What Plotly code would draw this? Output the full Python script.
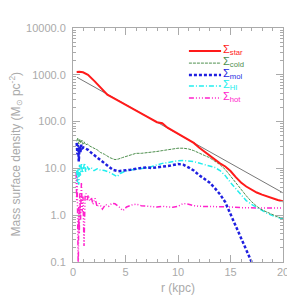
import plotly.graph_objects as go

# ---------------- data ----------------
fit_r = [0.38, 20.0]
fit_sigma = [885.0, 3.0]

star_r = [0.35, 0.6, 0.95, 1.1, 1.43, 2.07, 2.7, 3.27, 4.0, 5.0, 6.0, 7.0, 8.0, 8.5, 9.0, 10.0, 11.0,
          11.5, 12.0, 12.5, 13.0, 13.5, 14.0, 14.5, 15.0, 15.5, 16.0, 16.5, 17.0, 17.5, 18.0, 18.5,
          19.0, 19.5, 20.0]
star_sigma = [1150, 1160, 1130, 1100, 1000, 725, 505, 376, 305, 232, 173, 130, 97, 92, 74, 55, 41,
              35, 28, 23, 18.5, 15, 12.8, 11, 8.8, 6.5, 5.0, 4.1, 3.5, 3.05, 2.75, 2.5,
              2.3, 2.12, 1.98]

cold_r = [0.35, 0.45, 0.55, 0.65, 0.75, 0.85, 0.95, 1.05, 1.2, 1.4, 1.6, 1.8, 2.0, 2.3, 2.6, 3.0,
          3.5, 4.0, 4.3, 4.7, 5.0, 5.5, 6.0, 6.5, 7.0, 7.5, 8.0, 8.5, 9.0, 9.5, 10.0, 10.5, 11.0,
          11.5, 12.0, 12.5, 13.0, 13.5, 14.0, 14.5, 15.0, 15.5, 16.0, 16.5, 17.0, 17.5, 18.0,
          18.5, 19.0, 19.5, 20.0]
cold_sigma = [38, 45, 33, 42, 35, 40, 33, 37, 32, 33, 30, 29, 27, 25, 22, 20,
              17, 15.4, 15.8, 17, 18, 19.5, 21, 21, 21.5, 22.5, 23, 24, 25, 26.5, 27, 27, 26,
              24, 21, 19, 17, 14.5, 12, 9.5, 6.8, 4.9, 3.6, 2.6, 1.95, 1.55, 1.3,
              1.15, 1.02, 0.92, 0.85]

mol_r = [0.35, 0.42, 0.48, 0.55, 0.62, 0.7, 0.8, 0.9, 1.0, 1.2, 1.43, 1.8, 2.38, 3.0, 3.33, 3.8,
         4.3, 5.0, 5.5, 6.2, 7.0, 7.5, 8.0, 8.7, 9.3, 10.0, 10.5, 11.0, 11.5, 12.0, 12.5, 13.0,
         13.5, 14.0, 14.5, 15.0, 15.5, 16.0, 16.5, 17.0, 17.2]
mol_sigma = [35, 20, 32, 14, 30, 22, 32, 27, 28, 27, 25, 21, 16.6, 12.5, 11, 9.3,
             8.7, 9.0, 9.4, 10, 10.5, 10.2, 10.5, 10.7, 11.5, 12.4, 12, 10.5, 9, 7.2, 6, 5,
             3.8, 2.8, 1.9, 1.05, 0.55, 0.3, 0.17, 0.1, 0.08]

hi_r = [0.35, 0.42, 0.48, 0.55, 0.62, 0.7, 0.8, 0.9, 1.0, 1.1, 1.2, 1.35, 1.5, 1.7, 2.0, 2.3, 2.6,
        3.0, 3.5, 4.0, 4.2, 4.5, 5.0, 5.5, 6.2, 7.0, 7.5, 8.0, 8.5, 9.0, 9.5, 10.0, 10.5, 11.0,
        11.5, 12.0, 12.5, 13.0, 13.5, 14.0, 14.5, 15.0, 15.5, 16.0, 16.5, 17.0, 17.5, 18.0,
        18.5, 19.0, 19.5, 20.0]
hi_sigma = [9, 5, 10, 4.5, 12, 7, 13, 8, 10, 13, 8.5, 11, 9.5, 10.5, 9.0, 9.8, 9.2,
            9.0, 8.2, 7.0, 6.7, 7.8, 8.8, 9.2, 9.6, 10.3, 11, 12, 12.8, 13.3, 14, 14.6, 14.7, 14.3,
            14, 13, 12.2, 11.5, 10.5, 9.0, 7.0, 5.0, 3.7, 2.7, 2.05, 1.7, 1.45, 1.25,
            1.1, 0.98, 0.9, 0.83]

hot_r = [0.3, 0.35, 0.4, 0.45, 0.5, 0.55, 0.6, 0.65, 0.72, 0.8, 0.88, 0.95, 1.05, 1.15, 1.25,
         1.35, 1.45, 1.6, 1.75, 1.9, 2.1, 2.3, 2.5, 2.8, 3.1, 3.4, 3.7, 4.0, 4.4, 4.75, 5.1,
         5.6, 6.0, 6.5, 7.0, 7.5, 8.0, 8.5, 9.0, 9.5, 10.0, 10.5, 11.0, 11.5, 12.0, 13.0, 14.0,
         15.0, 16.0, 17.0, 18.0, 19.0, 20.0]
hot_sigma = [8, 2, 6, 0.3, 0.06, 1.5, 0.4, 3, 0.8, 5, 1.2, 2.5, 0.22, 2.5, 2.9,
             2.0, 2.7, 2.0, 2.4, 1.7, 2.3, 1.5, 1.8, 1.35, 1.7, 1.55, 1.8, 1.75, 1.5, 1.25, 1.5,
             1.65, 1.72, 1.6, 1.55, 1.5, 1.5, 1.55, 1.5, 1.48, 1.55, 1.78, 1.72, 1.6, 1.55, 1.55, 1.52,
             1.5, 1.45, 1.42, 1.42, 1.42, 1.42]

legend_labels = ["star", "cold", "mol", "HI", "hot"]
x_ticks = [0, 5, 10, 15, 20]
y_ticks = [0.1, 1, 10, 100, 1000, 10000]
y_ticktext = ["0.1", "1.0", "10.0", "100.0", "1000.0", "10000.0"]

# ---------------- styles ----------------
AX = "#aaaaaa"
FONT = "Liberation Sans"
styles = [
    dict(color="#ff1a1a", width=2, dash="solid"),
    dict(color="#4e8f4e", width=1, dash="3px,1px"),
    dict(color="#1f1fe0", width=2.5, dash="3px,2px"),
    dict(color="#22eeee", width=1.5, dash="5px,2px,1px,2px"),
    dict(color="#ff22cc", width=1.5, dash="5px,2px,1px,2px,1px,2px,1px,2px"),
]
series = [(star_r, star_sigma), (cold_r, cold_sigma), (mol_r, mol_sigma),
          (hi_r, hi_sigma), (hot_r, hot_sigma)]

fig = go.Figure()
fig.add_trace(go.Scatter(x=fit_r, y=fit_sigma, mode="lines",
                         line=dict(color="#777777", width=1), showlegend=False))
# draw in reverse order so the stellar curve is on top
for (rr, ss), st, lab in list(zip(series, styles, legend_labels))[::-1]:
    fig.add_trace(go.Scatter(x=rr, y=ss, mode="lines", line=st, name=lab, showlegend=False))

# legend built from shapes + annotations
leg_y = [0.902, 0.850, 0.799, 0.752, 0.701]
for st, lab, yy in zip(styles, legend_labels, leg_y):
    fig.add_shape(type="line", xref="paper", yref="paper", x0=0.552, x1=0.705, y0=yy, y1=yy,
                  line=dict(color=st["color"], width=st["width"], dash=st["dash"]))
    fig.add_annotation(xref="paper", yref="paper", x=0.703, y=yy + 0.006, xanchor="left",
                       yanchor="middle", showarrow=False,
                       text="Σ<sub>%s</sub>" % lab,
                       font=dict(family=FONT, size=11, color=st["color"]))

minor_y = [m * 10 ** e for e in range(-1, 4) for m in range(2, 10)]

fig.update_xaxes(range=[0, 20], tickvals=x_ticks, ticktext=[str(v) for v in x_ticks],
                 ticks="inside", ticklen=7, tickcolor=AX, showline=True, linecolor=AX,
                 linewidth=1, mirror="ticks", showgrid=False, zeroline=False,
                 automargin=False,
                 tickfont=dict(family=FONT, size=11, color=AX),
                 minor=dict(dtick=1, ticks="inside", ticklen=3, tickcolor=AX, showgrid=False))
fig.update_yaxes(type="log", range=[-1, 4], tickvals=y_ticks, ticktext=y_ticktext,
                 ticks="inside", ticklen=7, tickcolor=AX, showline=True, linecolor=AX,
                 linewidth=1, mirror="ticks", showgrid=False, zeroline=False,
                 ticklabelstandoff=4, automargin=False,
                 tickfont=dict(family=FONT, size=11, color=AX),
                 minor=dict(tickvals=minor_y, ticks="inside", ticklen=3, tickcolor=AX,
                            showgrid=False))

fig.add_annotation(xref="paper", yref="paper", x=0.5, y=-0.111, xanchor="center",
                   yanchor="middle", showarrow=False, text="r (kpc)",
                   font=dict(family=FONT, size=12, color=AX))
fig.add_annotation(xref="paper", yref="paper", x=-0.271, y=0.46, xanchor="center",
                   yanchor="middle", showarrow=False, textangle=-90,
                   text="Mass surface density (M<sub>⊙</sub> pc<sup>-2</sup>)",
                   font=dict(family=FONT, size=12, color=AX))

fig.update_layout(width=295, height=295, margin=dict(l=65, r=20, t=20, b=41, autoexpand=False),
                  paper_bgcolor="white", plot_bgcolor="white", showlegend=False)

fig.write_html("out.html")
